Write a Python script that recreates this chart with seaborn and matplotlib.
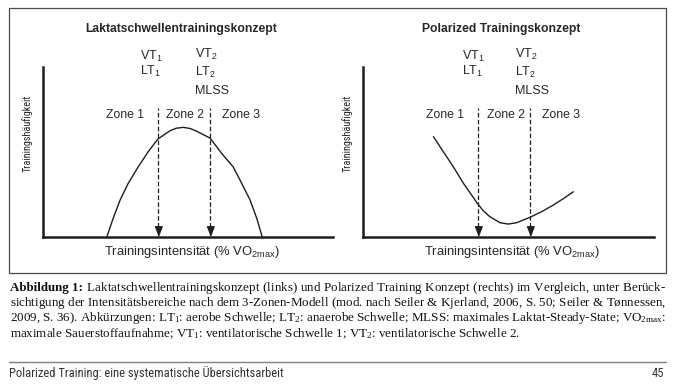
import matplotlib
matplotlib.use("Agg")
import matplotlib.pyplot as plt
import seaborn as sns
import pandas as pd
from matplotlib.patches import Rectangle
from matplotlib.lines import Line2D

# ---------------- data (axes units 0-100) ----------------
laktat_x = [22.0, 24.2, 26.6, 29.4, 32.8, 36.3, 39.6, 43.8, 46.0, 48.4, 50.8, 53.0, 57.6, 61.6, 65.6, 68.5, 71.4, 73.7, 75.6]
laktat_y = [0.0, 11.0, 21.8, 31.6, 41.2, 50.2, 57.6, 62.5, 64.0, 64.5, 63.8, 62.2, 58.2, 49.2, 41.2, 31.6, 21.8, 11.0, 0.0]
polar_x = [24.2, 27.6, 31.0, 34.5, 39.3, 41.3, 43.6, 47.1, 49.9, 52.8, 57.4, 61.5, 65.4, 68.8, 72.3]
polar_y = [59.0, 50.2, 41.4, 31.6, 19.8, 15.5, 11.9, 8.4, 7.6, 8.4, 11.6, 15.0, 18.8, 22.5, 26.6]
thresholds = [39.5, 57.5]
zone_labels = ["Zone 1", "Zone 2", "Zone 3"]
panel_titles = ["Laktatschwellentrainingskonzept", "Polarized Trainingskonzept"]
threshold1_labels = [r"VT$_\mathrm{1}$", r"LT$_\mathrm{1}$"]
threshold2_labels = [r"VT$_\mathrm{2}$", r"LT$_\mathrm{2}$", "MLSS"]
x_label = r"Trainingsintensität (% VO$_\mathrm{2max}$)"
y_label = "Trainingshäufigkeit"

caption_bold = "Abbildung 1:"
caption_lines = [
    "Laktatschwellentrainingskonzept (links) und Polarized Training Konzept (rechts) im Vergleich, unter Berück-".split(),
    "sichtigung der Intensitätsbereiche nach dem 3-Zonen-Modell (mod. nach Seiler & Kjerland, 2006, S. 50; Seiler & Tønnessen,".split(),
    r"2009, S. 36). Abkürzungen: LT$_\mathsf{1}$: aerobe Schwelle; LT$_\mathsf{2}$: anaerobe Schwelle; MLSS: maximales Laktat-Steady-State; VO$_\mathsf{2max}$:".split(),
    r"maximale Sauerstoffaufnahme; VT$_\mathsf{1}$: ventilatorische Schwelle 1; VT$_\mathsf{2}$: ventilatorische Schwelle 2.".split(),
]
footer_text = "Polarized Training: eine systematische Übersichtsarbeit"
page_number = "45"

# ---------------- style ----------------
sns.set_theme(style="white")
plt.rcParams["font.family"] = ["Liberation Sans", "DejaVu Sans"]
plt.rcParams["mathtext.fontset"] = "custom"
plt.rcParams["mathtext.rm"] = "Liberation Sans"
plt.rcParams["mathtext.sf"] = "Liberation Serif"
plt.rcParams["mathtext.default"] = "regular"

W, H = 674, 389
fig = plt.figure(figsize=(W / 100, H / 100), dpi=100)
fig.patch.set_facecolor("white")


def fx(px):
    return px / W


def fy(py):
    return 1 - py / H


INK = "#1e1e1e"
TXT = "#262626"
narrow = ["Liberation Sans Narrow", "Roboto Condensed", "Liberation Sans", "DejaVu Sans"]
ax_top, ax_bot = 67, 237
panels = [(43, 333, laktat_x, laktat_y), (363, 654, polar_x, polar_y)]

arrow_verts = [(-0.38, 0.5), (0.38, 0.5), (0.0, -0.5)]

for i, (l, r, xs, ys) in enumerate(panels):
    ax = fig.add_axes([fx(l), fy(ax_bot), (r - l) / W, (ax_bot - ax_top) / H])
    ax.patch.set_alpha(0)
    df = pd.DataFrame({"x": xs, "y": ys})
    sns.lineplot(data=df, x="x", y="y", sort=False, estimator=None,
                 color=INK, lw=1.0, ax=ax, clip_on=False)
    ax.set_xlim(0, 100)
    ax.set_ylim(0, 100)
    ax.set_xticks([])
    ax.set_yticks([])
    ax.set_xlabel("")
    ax.set_ylabel("")
    for s in ["top", "right"]:
        ax.spines[s].set_visible(False)
    for s in ["left", "bottom"]:
        ax.spines[s].set_linewidth(1.8)
        ax.spines[s].set_color(INK)
        ax.spines[s].set_capstyle("projecting")

    # thresholds with arrows
    ax.vlines(thresholds, 6.0, 75.7, colors=INK, linestyles=(0, (3.6, 1.9)), lw=0.9)
    ax.plot(thresholds, [3.6, 3.6], ls="none", marker=arrow_verts, ms=6.8,
            color=INK, mec=INK, clip_on=False)

    # title
    ax.text(47.6, 122.6, panel_titles[i], ha="center", va="center",
            fontsize=8.7, fontweight="bold", color=TXT)
    # threshold labels
    tx1 = 33.6 if i == 0 else 34.0
    tx2 = 52.4 if i == 0 else 52.2
    for lab, yy in zip(threshold1_labels, [106.5, 97.5]):
        ax.text(tx1, yy, lab, ha="left", va="center", fontsize=9.0, color=TXT)
    for lab, yy in zip(threshold2_labels, [107.5, 97.0, 85.9]):
        ax.text(tx2, yy, lab, ha="left", va="center", fontsize=9.0, color=TXT)
    # zone labels
    for lab, xx in zip(zone_labels, [28.3, 49.0, 68.2]):
        ax.text(xx, 71.8, lab, ha="center", va="center", fontsize=8.8, color=TXT)
    # axis labels
    ax.text(51.2, -8.8, x_label, ha="center", va="center", fontsize=9.4, color=TXT)
    ax.text(-5.3, 60.9, y_label, ha="center", va="center", rotation=90,
            fontsize=7.3, family=narrow, color=TXT)

# outer frame
fig.add_artist(Rectangle((fx(9), fy(273)), (666 - 9) / W, (273 - 8) / H,
                         transform=fig.transFigure, fill=False, ec="#4a4a4a", lw=0.9))

# ---------------- caption (justified, one text object per line) ----------------
renderer = fig.canvas.get_renderer()
cap_x0, cap_x1 = 10, 666
cap_base = [290.5, 306.0, 321.5, 337.0]
serif = ["Liberation Serif", "DejaVu Serif"]
CAP_COL = "#111111"


def text_width(s, fs, wt="normal"):
    t = fig.text(0, 0, s, fontsize=fs, family=serif, fontweight=wt)
    wd = t.get_window_extent(renderer).width
    t.remove()
    return wd


# font size: widest justified line fits with normal word spacing
ref_fs = 10.0
nat = [text_width(caption_bold + " " + " ".join(caption_lines[0]), ref_fs)]
nat += [text_width(" ".join(ln), ref_fs) for ln in caption_lines[1:3]]
cap_fs = ref_fs * (cap_x1 - cap_x0) * 0.995 / max(nat)


def spaced(words, g, lead=False):
    sp = r"$\hspace{%.5f}$" % g
    s = sp.join(words)
    return (sp + s) if lead else s


# line 1: bold lead-in, then the rest justified
tb = fig.text(fx(cap_x0), fy(cap_base[0]), caption_bold, fontsize=cap_fs, family=serif,
              fontweight="bold", ha="left", va="baseline", color=CAP_COL)
wb = tb.get_window_extent(renderer).width

for li, words in enumerate(caption_lines):
    lead = li == 0
    start = cap_x0 + wb if lead else cap_x0
    if li < len(caption_lines) - 1:
        target = cap_x1 - start
        w0 = text_width(spaced(words, 0.0, lead), cap_fs)
        w1 = text_width(spaced(words, 1.0, lead), cap_fs)
        g = (target - w0) / (w1 - w0)
        s = spaced(words, g, lead)
    else:
        s = " ".join(words)
    fig.text(fx(start), fy(cap_base[li]), s, fontsize=cap_fs, family=serif,
             ha="left", va="baseline", color=CAP_COL)

# ---------------- footer ----------------
fig.add_artist(Line2D([fx(9), fx(666)], [fy(361.7), fy(361.7)], color="#808080",
                      lw=1.0, transform=fig.transFigure))
fig.text(fx(9), fy(373.5), footer_text, fontsize=9.0, family=narrow,
         ha="left", va="center", color="#333333")
fig.text(fx(664), fy(373.5), page_number, fontsize=9.0, family=narrow,
         ha="right", va="center", color="#333333")

fig.savefig("out.png", dpi=100, facecolor="white")
